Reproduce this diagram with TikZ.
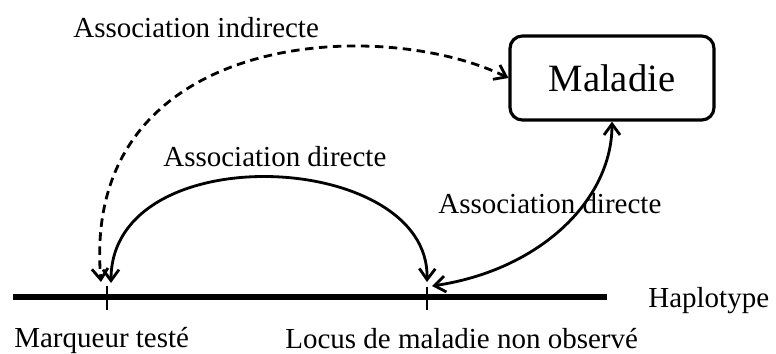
\documentclass[tikz,border=0pt]{standalone}
\usepackage{fontspec}
\setmainfont{Liberation Serif}
\usetikzlibrary{arrows.meta,positioning,calc}
\tikzset{
  boite/.style={rectangle, rounded corners=7pt, draw=black, line width=1.8pt,
                minimum width=4.08cm, minimum height=1.68cm, font=\fontsize{22}{26}\selectfont},
  etiq/.style={inner sep=0pt, font=\fontsize{16.5}{20}\selectfont},
  fleche/.style={{Straight Barb[length=2.2mm,width=3.2mm]}-{Straight Barb[length=2.2mm,width=3.2mm]}, line width=1.6pt},
  tiret/.style={dash pattern=on 1.7mm off 1.1mm},
  haplo/.style={line width=2.9pt},
  trait/.style={line width=1.3pt},
}
\begin{document}
\begin{tikzpicture}[x=0.02cm, y=-0.02cm]
        \useasboundingbox (0,0) rectangle (776,353);
        % haplotype et marques
        \coordinate (hg) at (13,297);
        \coordinate (hd) at (607,297);
        \coordinate (mq) at (107,297);
        \coordinate (lc) at (427,297);
        \draw[haplo] (hg) -- (hd);
        \draw[trait] ($(mq)+(0,-11)$) -- ($(mq)+(0,13)$);
        \draw[trait] ($(lc)+(0,-10)$) -- ($(lc)+(0,13)$);
        \node[boite] (mal) at (612,78) {Maladie};
        \node[etiq, anchor=base west] (hap) at (648,307) {Haplotype};
        \node[etiq, anchor=base west] (mqlab) at (14,347) {Marqueur testé};
        \node[etiq, anchor=base west] (lclab) at (285,348) {Locus de maladie non observé};
        \node[etiq, anchor=base west] (indir) at (73,37) {Association indirecte};
        \node[etiq, anchor=base west] (dir1) at (163,166) {Association directe};
        \node[etiq, anchor=base west] (dir2) at (438,213) {Association directe};
        % extremites des fleches
        \coordinate (mq1) at (101,282); \coordinate (mq2) at (111,283);
        \coordinate (lc1) at (427,282); \coordinate (lc2) at (432,286);
        \draw[fleche, tiret] (mal.west) .. controls (380,15) and (80,30) .. (mq1);
        \draw[fleche] (mq2) .. controls (111,135) and (430,150) .. (lc1);
        \draw[fleche] (lc2) .. controls (540,270) and (612,200) .. (mal.south);
      \end{tikzpicture}
\end{document}
